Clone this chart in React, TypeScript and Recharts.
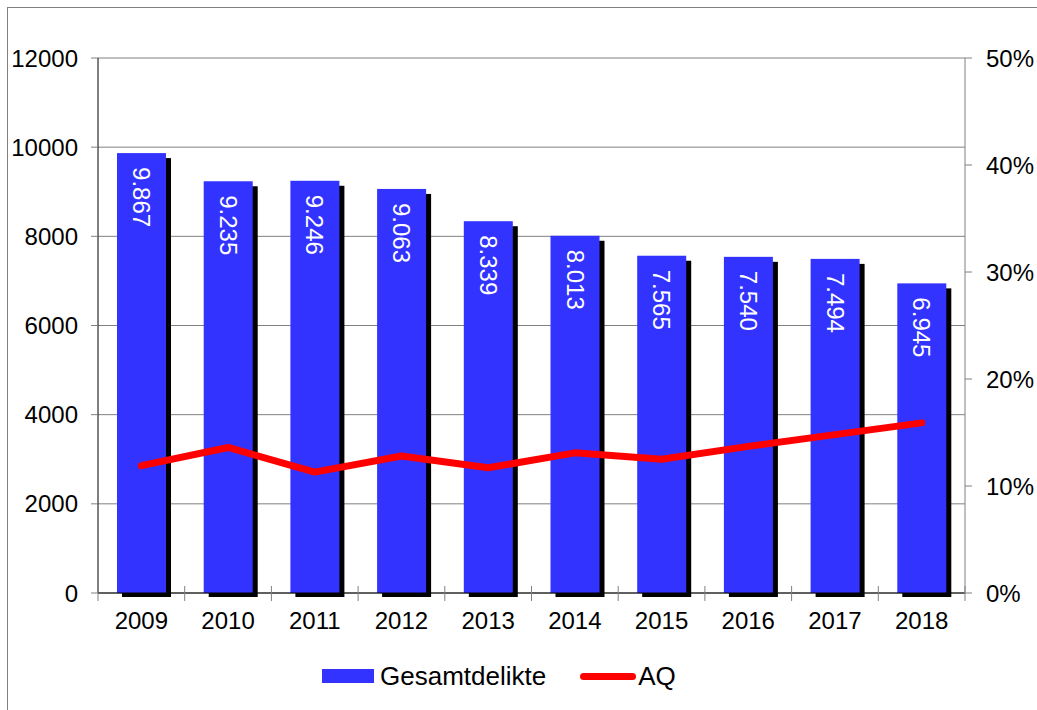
import React from "react";
import {
  ComposedChart,
  Bar,
  Line,
  XAxis,
  YAxis,
  CartesianGrid,
  Legend,
  LabelList,
} from "recharts";

const years = ["2009", "2010", "2011", "2012", "2013", "2014", "2015", "2016", "2017", "2018"];
const gesamtdelikte = [9867, 9235, 9246, 9063, 8339, 8013, 7565, 7540, 7494, 6945];
const aq = [11.9, 13.6, 11.3, 12.8, 11.7, 13.1, 12.5, 13.7, 14.8, 15.9];
const leftTicks = [0, 2000, 4000, 6000, 8000, 10000, 12000];
const rightTicks = [0, 10, 20, 30, 40, 50];

const data = years.map((year, i) => ({
  year,
  gesamt: gesamtdelikte[i],
  aq: aq[i],
}));

const FONT = '"Liberation Sans", Arial, sans-serif';
const BLUE = "#3333FF";
const RED = "#FF0000";
const GRID = "#808080";

const CHART_W = 1029;
const CHART_H = 702;
const LEFT_W = 90;
const RIGHT_W = 72;
const PLOT_W = CHART_W - LEFT_W - RIGHT_W;
const BAND = PLOT_W / years.length;

// bar with a black drop shadow behind it
const ShadowBar = (props: any) => {
  const { x, y, width, height } = props;
  if (!height || height <= 0) return null;
  return (
    <g>
      <rect x={x + 5} y={y + 5} width={width} height={height - 1} fill="#000" />
      <rect x={x} y={y} width={width} height={height} fill={BLUE} />
    </g>
  );
};

const fmt = (v: number) => v.toString().replace(/\B(?=(\d{3})+(?!\d))/g, ".");

const BarValue = (props: any) => {
  const { x, y, width, value } = props;
  const cx = x + width / 2;
  const ty = y + 14;
  return (
    <text
      x={cx}
      y={ty}
      transform={`rotate(90, ${cx}, ${ty})`}
      textAnchor="start"
      dominantBaseline="central"
      fill="#fff"
      fontSize={24}
      fontFamily={FONT}
    >
      {fmt(value)}
    </text>
  );
};

const YearTick = (props: any) => {
  const { x, y, payload, index } = props;
  const last = index === years.length - 1;
  return (
    <g>
      <line x1={x - BAND / 2} x2={x - BAND / 2} y1={y - 7} y2={y + 8} stroke={GRID} />
      {last && <line x1={x + BAND / 2} x2={x + BAND / 2} y1={y - 7} y2={y + 8} stroke={GRID} />}
      <text x={x} y={y + 36} textAnchor="middle" fill="#000" fontSize={24} fontFamily={FONT}>
        {payload.value}
      </text>
    </g>
  );
};

const renderLegend = () => (
  <div
    style={{
      height: 40,
      display: "flex",
      alignItems: "center",
      paddingLeft: 314,
      fontFamily: FONT,
      fontSize: 26,
      color: "#000",
    }}
  >
    <span style={{ width: 52, height: 14, background: BLUE, display: "inline-block" }} />
    <span style={{ marginLeft: 6 }}>Gesamtdelikte</span>
    <span
      style={{
        marginLeft: 34,
        width: 56,
        height: 7,
        borderRadius: 4,
        background: RED,
        display: "inline-block",
      }}
    />
    <span style={{ marginLeft: 2 }}>AQ</span>
  </div>
);

export default function App() {
  return (
    <div style={{ position: "fixed", inset: 0, overflow: "hidden", background: "#fff" }}>
      <style>{`html, body { margin: 0; overflow: hidden; }`}</style>
      <div
        style={{
          position: "absolute",
          left: 7,
          top: 7,
          width: 1040,
          height: 710,
          borderLeft: `1px solid ${GRID}`,
          borderTop: `1px solid ${GRID}`,
        }}
      >
        <ComposedChart
          width={CHART_W}
          height={CHART_H}
          data={data}
          margin={{ top: 50, right: 0, bottom: 27, left: 0 }}
        >
          <CartesianGrid horizontal vertical={false} stroke={GRID} yAxisId="left" />
          <XAxis
            dataKey="year"
            axisLine={{ stroke: "#000" }}
            tickLine={false}
            tickSize={0}
            tickMargin={0}
            height={50}
            tick={<YearTick />}
            interval={0}
          />
          <YAxis
            yAxisId="left"
            domain={[0, 12000]}
            ticks={leftTicks}
            width={LEFT_W}
            axisLine={{ stroke: "#000" }}
            tickLine={{ stroke: GRID }}
            tickSize={7}
            tickMargin={13}
            tick={{ fill: "#000", fontSize: 24, fontFamily: FONT }}
          />
          <YAxis
            yAxisId="right"
            orientation="right"
            domain={[0, 50]}
            ticks={rightTicks}
            width={RIGHT_W}
            axisLine={{ stroke: GRID }}
            tickLine={{ stroke: GRID }}
            tickSize={7}
            tickMargin={14}
            tickFormatter={(v: number) => `${v}%`}
            tick={{ fill: "#000", fontSize: 24, fontFamily: FONT, textAnchor: "start" }}
          />
          <Bar
            yAxisId="left"
            dataKey="gesamt"
            name="Gesamtdelikte"
            fill={BLUE}
            barSize={49}
            shape={<ShadowBar />}
            isAnimationActive={false}
          >
            <LabelList dataKey="gesamt" content={<BarValue />} />
          </Bar>
          <Line
            yAxisId="right"
            type="linear"
            dataKey="aq"
            name="AQ"
            stroke={RED}
            strokeWidth={7}
            strokeLinecap="round"
            strokeLinejoin="round"
            dot={false}
            activeDot={false}
            isAnimationActive={false}
          />
          <Legend
            verticalAlign="bottom"
            content={renderLegend}
            wrapperStyle={{ top: 648, bottom: "auto", left: 0, width: CHART_W }}
          />
        </ComposedChart>
      </div>
    </div>
  );
}
